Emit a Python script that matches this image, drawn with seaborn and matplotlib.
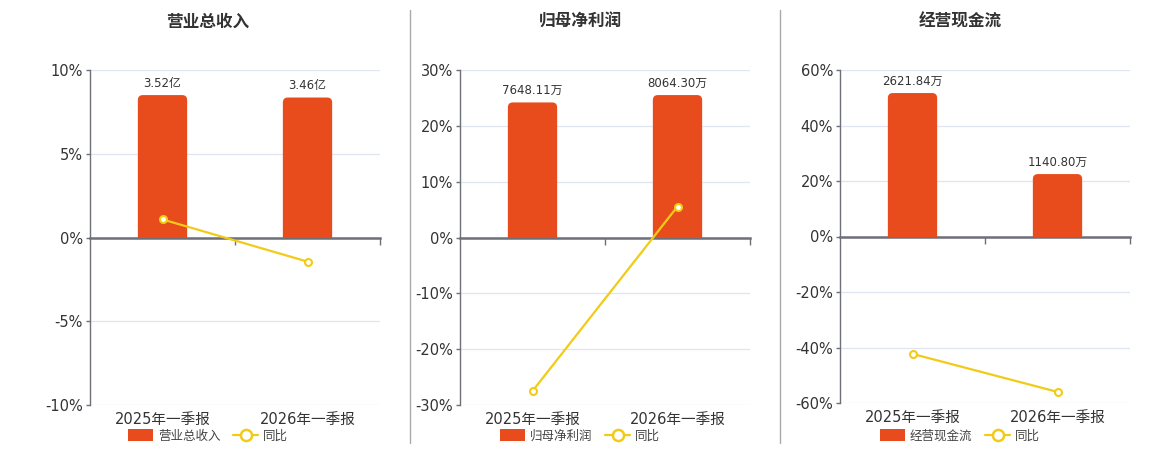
import matplotlib
matplotlib.use("Agg")
import matplotlib.pyplot as plt
import seaborn as sns
from matplotlib.patches import Patch, FancyBboxPatch, Rectangle
from matplotlib.lines import Line2D
from matplotlib.ticker import FuncFormatter

# Data
periods = ["2025年一季报", "2026年一季报"]

revenue = [3.52, 3.46]            # 亿
revenue_labels = ["3.52亿", "3.46亿"]
revenue_yoy = [1.08, -1.44]        # %

profit = [7648.11, 8064.30]        # 万
profit_labels = ["7648.11万", "8064.30万"]
profit_yoy = [-27.5, 5.55]

cashflow = [2621.84, 1140.80]      # 万
cashflow_labels = ["2621.84万", "1140.80万"]
cashflow_yoy = [-42.3, -56.0]

titles = ["营业总收入", "归母净利润", "经营现金流"]

sns.set_style("white")
plt.rcParams['font.family'] = ['DejaVu Sans', 'Noto Sans CJK SC']
plt.rcParams['axes.unicode_minus'] = False

BAR = "#E84C1C"
LINE = "#F2CB16"
AXIS = "#6E7079"
GRID = "#E0E6F1"
TEXT = "#333333"

W, H = 1160, 450
fig = plt.figure(figsize=(W / 100, H / 100), dpi=100)

panels = [
    # title, bars, labels, yoy, pct limit, pct ticks, bar limit, axes px (left, right, top, bottom), panel center
    (titles[0], revenue, revenue_labels, revenue_yoy, 10, [-10, -5, 0, 5, 10], 4.14, (90, 380, 70, 405), 208),
    (titles[1], profit, profit_labels, profit_yoy, 30, [-30, -20, -10, 0, 10, 20, 30], 9484, (460, 750, 70, 405), 580),
    (titles[2], cashflow, cashflow_labels, cashflow_yoy, 60, [-60, -40, -20, 0, 20, 40, 60], 3043, (840, 1130, 70, 403), 960),
]

for i, (title, bars, labels, yoy, lim, ticks, blim, (l, r, t, b), cx) in enumerate(panels):
    rect = [l / W, 1 - b / H, (r - l) / W, (b - t) / H]

    # percent axis: grid, y ticks, zero line
    ax = fig.add_axes(rect, label=f"pct{i}")
    ax.set_xlim(-0.5, 1.5)
    ax.set_ylim(-lim, lim)
    ax.set_yticks(ticks)
    ax.yaxis.set_major_formatter(FuncFormatter(lambda v, p: f"{v:g}%"))
    ax.grid(axis="y", color=GRID, lw=0.9)
    ax.set_axisbelow(True)
    for s in ["top", "right"]:
        ax.spines[s].set_visible(False)
    ax.spines["left"].set_color(AXIS)
    ax.spines["left"].set_linewidth(1)
    ax.spines["bottom"].set_position(("data", 0))
    ax.spines["bottom"].set_color(AXIS)
    ax.spines["bottom"].set_linewidth(1.8)
    ax.set_xticks([0.5, 1.5])
    ax.set_xticklabels(["", ""])
    ax.tick_params(axis="x", bottom=True, direction="out", length=5, color=AXIS, width=1)
    ax.tick_params(axis="y", left=True, direction="out", length=3, color=AXIS, width=1,
                   labelsize=10.5, labelcolor=TEXT, pad=2)

    # bars on a hidden overlay axis
    axb = fig.add_axes(rect, label=f"bar{i}", facecolor="none")
    sns.barplot(x=periods, y=bars, ax=axb, color=BAR, width=0.34, saturation=1)
    axb.set_xlim(-0.5, 1.5)
    axb.set_ylim(-blim, blim)
    axb.set_yticks([])
    axb.set_ylabel("")
    axb.set_xticks([])
    axb.set_xlabel("")
    for s in axb.spines.values():
        s.set_visible(False)

    # rounded tops
    fig.canvas.draw()
    bb = axb.get_window_extent()
    xpp = 2.0 / bb.width
    ypp = 2.0 * blim / bb.height
    radius = 5 * xpp
    for p in list(axb.patches):
        x0, y0, w, h = p.get_x(), p.get_y(), p.get_width(), p.get_height()
        p.set_visible(False)
        fb = FancyBboxPatch((x0, y0 - 10 * ypp), w, h + 10 * ypp,
                            boxstyle=f"round,pad=0,rounding_size={radius}",
                            mutation_aspect=ypp / xpp, fc=BAR, ec="none", zorder=2)
        axb.add_patch(fb)
        clip = Rectangle((x0 - 0.1, 0), w + 0.2, blim * 2, transform=axb.transData)
        fb.set_clip_path(clip)
    axb.bar_label(axb.containers[0], labels=labels, padding=4, fontsize=8.5, color=TEXT)

    # yoy line on top, category labels at the bottom
    axl = fig.add_axes(rect, label=f"line{i}", facecolor="none")
    sns.lineplot(x=periods, y=yoy, ax=axl, color=LINE, lw=1.6, marker="o",
                 markersize=5, markerfacecolor="white", markeredgecolor=LINE,
                 markeredgewidth=1.5, sort=False)
    axl.set_xlim(-0.5, 1.5)
    axl.set_ylim(-lim, lim)
    axl.set_yticks([])
    axl.set_ylabel("")
    for s in axl.spines.values():
        s.set_visible(False)
    axl.set_xticks([0, 1])
    axl.set_xticklabels(periods)
    axl.tick_params(axis="x", length=0, labelsize=10.5, labelcolor=TEXT, pad=5)

    # title
    fig.text(cx / W, 1 - 22 / H, title, ha="center", va="center",
             fontsize=12, fontweight="bold", color=TEXT)

    # legend
    handles = [Patch(facecolor=BAR, edgecolor="none"),
               Line2D([], [], color=LINE, lw=1.6, marker="o", markersize=8,
                      markerfacecolor="white", markeredgecolor=LINE, markeredgewidth=1.8)]
    fig.legend(handles, [title, "同比"], loc="center", bbox_to_anchor=(cx / W, 1 - 436 / H),
               ncol=2, frameon=False, fontsize=9, handlelength=2.0, handleheight=1.1,
               columnspacing=1.0, handletextpad=0.4, labelcolor="#444444")

# separators
for xs in [410, 780]:
    fig.add_artist(Line2D([xs / W, xs / W], [1 - 10 / H, 1 - 443 / H], color="#AAAAAA", lw=1))

fig.savefig("out.png", dpi=100)
